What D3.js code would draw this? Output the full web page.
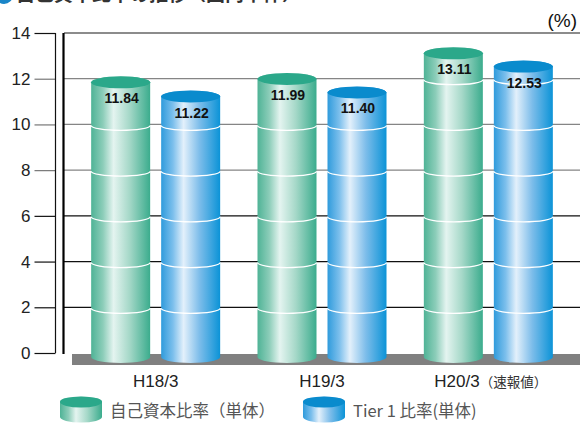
<!DOCTYPE html>
<html>
<head>
	<meta charset="utf-8">
	<title></title>
	<script src="https://d3js.org/d3.v7.min.js" charset="utf-8"></script>
	<style type="text/css">
		body { margin: 0; background: #fff; }
		svg text { font-family: Arial, 'Liberation Sans', sans-serif; }
		.cjk { font-family: 'Noto Sans CJK JP', sans-serif; }
		.val { font-family: 'Liberation Sans Narrow', 'Arial Narrow', Arial, sans-serif; font-weight: bold; font-size: 14px; fill: #111; }
	</style>
</head>
<body>
	<script type="text/javascript">
		var categories = ['H18/3', 'H19/3', 'H20/3'];
		var categoryNotes = ['', '', '（速報値）'];
		var seriesNames = ['自己資本比率（単体）', 'Tier 1 比率(単体)'];
		var ownCapital = [11.84, 11.99, 13.11];
		var tier1 = [11.22, 11.40, 12.53];
		var yTicks = [0, 2, 4, 6, 8, 10, 12, 14];

		var w = 580, h = 423;
		var svg = d3.select('body').append('svg')
			.attr('width', w)
			.attr('height', h);

		var y = d3.scaleLinear().domain([0, 14]).range([353, 33]);
		var x0 = d3.scaleBand().domain(categories).range([72.5, 571.5]);
		var x1 = d3.scaleBand().domain([0, 1]).range([-64.5, 64.5]).paddingInner(11 / 70);

		// gradients
		var defs = svg.append('defs');
		var palettes = [
			{ id: 'g0', stops: ['#4fb396', '#8ccdb9', '#e4f4f0', '#a5d8c8', '#3bac8d'], top: '#2ba88a' },
			{ id: 'g1', stops: ['#2f9bdc', '#7cbfec', '#e3f0fb', '#7dbdea', '#0b93d7'], top: '#0a8bcd' }
		];
		palettes.forEach(function(p){
			var lg = defs.append('linearGradient').attr('id', p.id)
				.attr('x1', '0%').attr('x2', '100%').attr('y1', '0%').attr('y2', '0%');
			[0, 0.2, 0.38, 0.65, 1].forEach(function(o, i){
				lg.append('stop').attr('offset', o).attr('stop-color', p.stops[i]);
			});
		});

		// title (cut off at the top)
		svg.append('circle').attr('cx', 4).attr('cy', -5).attr('r', 9).attr('fill', '#1a86c8');
		svg.append('text').attr('class', 'cjk')
			.attr('x', 16).attr('y', 1)
			.attr('font-size', 19).attr('font-weight', 'bold').attr('fill', '#333')
			.text('自己資本比率の推移（国内単体）');

		svg.append('text')
			.attr('x', 577).attr('y', 27)
			.attr('text-anchor', 'end')
			.attr('font-size', 19).attr('fill', '#111')
			.text('(%)');

		// grid lines
		svg.selectAll('line.grid')
			.data(yTicks.filter(function(d){ return d > 0; }))
			.enter().append('line')
			.attr('class', 'grid')
			.attr('x1', 64).attr('x2', w)
			.attr('y1', function(d){ return y(d); })
			.attr('y2', function(d){ return y(d); })
			.attr('stroke', function(d){ return d <= 6 ? '#111' : (d == 14 ? '#666' : '#858585'); })
			.attr('stroke-width', 1.3);

		// outer axis
		var axis = d3.axisLeft(y).tickValues(yTicks).tickSize(21).tickPadding(4);
		var ga = svg.append('g').attr('transform', 'translate(55.5,0)').call(axis);
		ga.select('.domain').remove();
		ga.append('line').attr('x1', 0).attr('x2', 0).attr('y1', y(14)).attr('y2', y(0))
			.attr('stroke', '#111').attr('stroke-width', 1.2);
		ga.selectAll('.tick line').attr('stroke', function(d){ return d <= 6 || d == 14 ? '#111' : '#777'; })
			.attr('stroke-width', 1.2);
		ga.selectAll('.tick text').attr('font-size', 17).attr('fill', '#222')
			.attr('font-family', 'Arial, sans-serif');

		svg.append('line').attr('x1', 63.5).attr('x2', 63.5).attr('y1', y(14)).attr('y2', y(0) + 1)
			.attr('stroke', '#000').attr('stroke-width', 2.2);

		// floor
		svg.append('rect').attr('x', 72).attr('y', 354).attr('width', w - 72).attr('height', 11)
			.attr('fill', '#808080');

		var rows = [];
		categories.forEach(function(c, i){
			rows.push({ cat: c, s: 0, v: ownCapital[i] });
			rows.push({ cat: c, s: 1, v: tier1[i] });
		});

		var ry = 6;
		function cylPath(xl, wd, yt, yb, r){
			var rx = wd / 2;
			return 'M' + xl + ',' + yt +
				'L' + xl + ',' + yb +
				'A' + rx + ',' + r + ' 0 0 0 ' + (xl + wd) + ',' + yb +
				'L' + (xl + wd) + ',' + yt +
				'A' + rx + ',' + r + ' 0 0 0 ' + xl + ',' + yt + 'Z';
		}

		var cyl = svg.selectAll('g.cyl').data(rows).enter().append('g').attr('class', 'cyl')
			.attr('transform', function(d){
				return 'translate(' + (x0(d.cat) + x0.bandwidth() / 2 + x1(d.s)) + ',0)';
			});
		var bw = x1.bandwidth();

		cyl.append('path')
			.attr('d', function(d){ return cylPath(0, bw, y(d.v), y(0) + 4, ry); })
			.attr('fill', function(d){ return 'url(#g' + d.s + ')'; });

		// white rings
		cyl.each(function(d){
			var g = d3.select(this);
			yTicks.filter(function(t){ return t > 0 && t < d.v - 0.2; }).forEach(function(t){
				g.append('path')
					.attr('d', 'M0,' + (y(t) + 1) + 'A' + (bw / 2) + ',5 0 0 0 ' + bw + ',' + (y(t) + 1))
					.attr('fill', 'none').attr('stroke', '#fff').attr('stroke-width', 1.3);
			});
		});

		cyl.append('ellipse')
			.attr('cx', bw / 2).attr('cy', function(d){ return y(d.v); })
			.attr('rx', bw / 2).attr('ry', ry)
			.attr('fill', function(d){ return palettes[d.s].top; });

		cyl.append('text').attr('class', 'val')
			.attr('x', bw / 2 + 1).attr('y', function(d){ return y(d.v) + 21; })
			.attr('text-anchor', 'middle')
			.text(function(d){ return d.v.toFixed(2); });

		// category labels
		var cl = svg.selectAll('text.cat').data(categories).enter().append('text')
			.attr('class', 'cat')
			.attr('y', 387)
			.attr('font-size', 17).attr('fill', '#222');
		cl.each(function(d, i){
			var t = d3.select(this);
			t.append('tspan').text(d);
			if (categoryNotes[i]) {
				t.append('tspan').attr('class', 'cjk').attr('font-size', 13.5).attr('fill', '#333').text(categoryNotes[i]);
			}
		});
		cl.attr('x', function(d, i){
			var len = this.getComputedTextLength();
			var cx = x0(d) + x0.bandwidth() / 2;
			return categoryNotes[i] ? cx - 54 : cx - len / 2;
		});

		// legend
		var legX = [60, 303];
		var leg = svg.selectAll('g.leg').data(seriesNames).enter().append('g').attr('class', 'leg')
			.attr('transform', function(d, i){ return 'translate(' + legX[i] + ',0)'; });
		leg.append('path')
			.attr('d', function(){ return cylPath(0, 42, 402, 417, 5.5); })
			.attr('fill', function(d, i){ return 'url(#g' + i + ')'; });
		leg.append('ellipse').attr('cx', 21).attr('cy', 402).attr('rx', 21).attr('ry', 5.5)
			.attr('fill', function(d, i){ return palettes[i].top; });
		leg.append('text').attr('class', 'cjk')
			.attr('x', 50).attr('y', 417)
			.attr('font-size', 16.5).attr('fill', '#555')
			.text(function(d){ return d; });
	</script>
</body>
</html>
